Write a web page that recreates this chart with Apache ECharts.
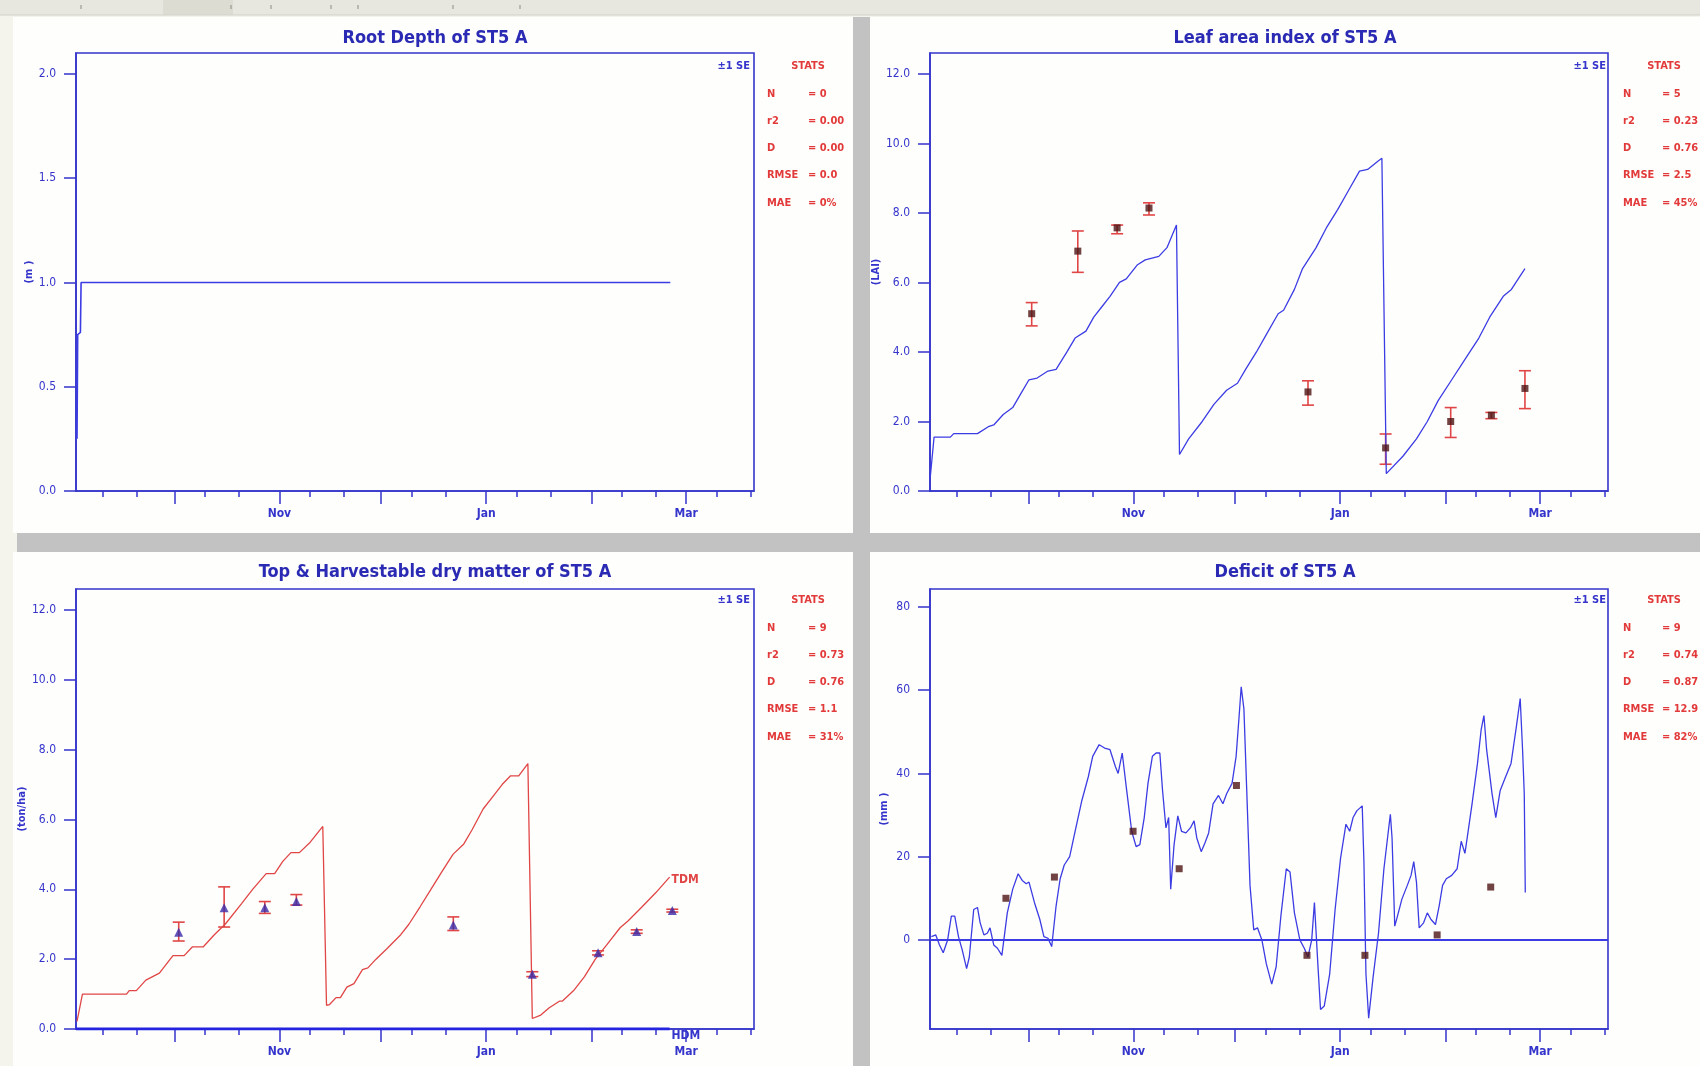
<!DOCTYPE html>
<html>
<head>
<meta charset="utf-8">
<script src="https://cdn.jsdelivr.net/npm/echarts@6/dist/echarts.min.js"></script>
<style>
html, body { margin: 0; padding: 0; background: #f4f3ec; }
#main { width: 1700px; height: 1066px; }
</style>
</head>
<body>
<div id="main"></div>
<script>
var FONT = '"Liberation Sans Narrow", "DejaVu Sans Condensed", sans-serif';
var AXIS = '#3535cc';
var LINE = '#3c3ce4';
var RED = '#e04646';
var STATRED = '#e23a3a';
var TITLE = '#2a2ab4';

// x axis: days since 1 Sep
var dayMin = 1, dayMax = 201;
var monthDays = [30, 61, 91, 122, 153, 181];
var labelDays = [61, 122, 181];
var monthLabels = ['Nov', 'Jan', 'Mar'];
var minorDays = [9, 19, 39, 49, 70, 80, 100, 110, 131, 141, 162, 172, 190, 200];

// root depth (m)
var rootDays = [1.3, 1.5, 2.3, 2.5, 176.3];
var rootVals = [0.25, 0.75, 0.76, 1.0, 1.0];
var rootTicks = [0, 0.5, 1.0, 1.5, 2.0];

// leaf area index
var laiDays = [1.06, 2.2, 7, 8, 15, 18.2, 19.8, 22.6, 25.4, 27.8, 30.2, 32.6, 35.8, 38.2, 41.4, 43.8, 47, 49.3, 51.7, 54.1, 56.9, 58.9, 62.1, 64.5, 68.5, 70.9, 73.7,
  74.6, 77.3, 81.3, 84.8, 88.5, 91.7, 94.1, 97.3, 100.2, 103.7, 105.3, 108.5, 110.9, 114.9, 118.1, 121.3, 124.2, 127.7, 130.1, 133.3, 134.3,
  135.6, 140.5, 144.5, 147.7, 150.9, 154.9, 158.9, 162.9, 166.1, 170.1, 172.5, 176.5];
var laiVals = [0.38, 1.55, 1.55, 1.65, 1.65, 1.85, 1.9, 2.2, 2.4, 2.8, 3.2, 3.25, 3.45, 3.5, 4.0, 4.4, 4.6, 5.0, 5.3, 5.6, 6.0, 6.1, 6.5, 6.65, 6.75, 7.0, 7.65,
  1.05, 1.5, 2.0, 2.5, 2.9, 3.1, 3.5, 4.0, 4.5, 5.1, 5.2, 5.8, 6.4, 7.0, 7.6, 8.1, 8.6, 9.2, 9.25, 9.5, 9.57,
  0.5, 1.0, 1.5, 2.0, 2.6, 3.2, 3.8, 4.4, 5.0, 5.6, 5.8, 6.4];
var laiObsDays = [31.0, 44.6, 56.2, 65.6, 112.5, 135.4, 154.6, 166.6, 176.5];
var laiObs = [5.1, 6.9, 7.57, 8.14, 2.85, 1.24, 2.0, 2.18, 2.95];
var laiLow = [4.75, 6.29, 7.4, 7.94, 2.47, 0.77, 1.54, 2.08, 2.37];
var laiHigh = [5.42, 7.48, 7.65, 8.29, 3.17, 1.64, 2.4, 2.26, 3.46];
var laiTicks = [0, 2, 4, 6, 8, 10, 12];

// top (TDM) and harvestable (HDM) dry matter, ton/ha
var tdmDays = [1.3, 2.9, 15.9, 16.7, 18.8, 21.6, 25.6, 29.6, 32.9, 35.3, 38.5, 41.8, 45.0, 49.9, 53.1, 57.1, 59.6, 62.0, 64.4, 66.9, 70.1, 73.8,
  74.9, 75.8, 77.7, 79.0, 80.9, 83.0, 85.5, 87.1, 89.5, 92.7, 96.8, 99.2, 102.5, 105.7, 108.9, 112.2, 115.4, 117.8, 121.1, 124.3, 126.7, 129.2, 131.6, 134.3,
  135.6, 138.1, 140.5, 143.7, 144.5, 147.8, 151.0, 154.2, 157.5, 161.5, 163.9, 168.0, 172.0, 176.1];
var tdmVals = [0.22, 1.0, 1.0, 1.1, 1.1, 1.4, 1.6, 2.1, 2.1, 2.35, 2.35, 2.7, 3.0, 3.6, 4.0, 4.45, 4.45, 4.8, 5.05, 5.05, 5.35, 5.8,
  0.68, 0.7, 0.9, 0.9, 1.2, 1.3, 1.7, 1.75, 2.0, 2.3, 2.7, 3.0, 3.5, 4.0, 4.5, 5.0, 5.3, 5.7, 6.3, 6.7, 7.0, 7.25, 7.25, 7.6,
  0.3, 0.4, 0.6, 0.8, 0.8, 1.1, 1.5, 2.0, 2.4, 2.9, 3.1, 3.5, 3.9, 4.35];
var hdmDays = [1, 176.1];
var hdmVals = [0, 0];
var tdmObsDays = [31.3, 44.7, 56.7, 66.0, 112.3, 135.6, 155.0, 166.4, 176.9];
var tdmObs = [2.77, 3.47, 3.47, 3.65, 2.98, 1.57, 2.18, 2.79, 3.39];
var tdmLow = [2.52, 2.92, 3.31, 3.55, 2.82, 1.5, 2.12, 2.74, 3.35];
var tdmHigh = [3.06, 4.07, 3.65, 3.85, 3.21, 1.64, 2.24, 2.84, 3.43];
var tdmTicks = [0, 2, 4, 6, 8, 10, 12];

// soil water deficit (mm)
var defDays = [1.4, 2.7, 3.8, 4.9, 6.2, 7.3, 8.3, 9.4, 10.5, 11.8, 12.6, 13.9, 15.0, 15.8, 16.9, 17.9, 18.7, 19.8, 20.9, 22.2, 23.8, 25.4, 27.0, 28.2, 29.4, 30.2,
  31.8, 33.4, 34.6, 35.8, 36.9, 38.2, 39.4, 40.6, 42.2, 43.8, 45.8, 47.7, 49.0, 50.9, 52.5, 54.1, 55.7, 56.5, 57.7, 58.9, 60.5, 61.8, 62.9, 64.2, 65.3,
  66.6, 67.7, 68.8, 69.6, 70.6, 71.4, 72.0, 73.0, 74.1, 75.2, 76.5, 77.8, 78.9, 79.7, 81.0, 82.1, 83.2, 84.5, 86.1, 87.4, 88.5, 90.1, 91.3, 92.2, 92.8,
  93.6, 94.4, 95.4, 96.5, 97.6, 98.9, 100.2, 101.8, 103.1, 104.5, 106.1, 107.2, 108.5, 110.1, 111.4, 112.5, 113.6, 114.4, 115.4, 116.2, 117.3, 118.9,
  120.5, 122.1, 123.7, 124.8, 125.8, 126.9, 128.5, 129.0, 129.6, 130.4, 131.7, 133.3, 134.9, 136.2, 136.8, 137.3, 138.1, 138.9, 140.2, 141.8, 142.9,
  143.7, 144.5, 145.3, 146.6, 147.7, 148.8, 150.1, 151.2, 152.2, 153.3, 154.9, 156.5, 157.7, 158.8, 159.6, 160.9, 162.5, 163.6, 164.4, 165.2, 166.8,
  167.9, 169.2, 170.8, 172.4, 174.0, 175.1, 175.8, 176.3, 176.6];
var defVals = [0.8, 1.2, -1.2, -3.1, 0, 5.7, 5.7, 0.8, -2.4, -6.9, -4.1, 7.3, 7.8, 4.1, 1.2, 1.6, 2.9, -1.2, -2.0, -3.7, 6.5, 12.2, 15.9, 14.3, 13.5, 13.9,
  9.0, 4.9, 0.8, 0.4, -1.6, 8.2, 14.7, 18.0, 20.0, 26.1, 33.5, 39.2, 44.1, 46.9, 46.1, 45.7, 41.6, 40.0, 44.9, 36.7, 26.1, 22.4, 22.9, 29.4, 37.6,
  44.1, 44.9, 44.9, 35.9, 26.9, 29.4, 12.2, 22.9, 29.8, 26.1, 25.7, 26.9, 28.6, 24.5, 21.2, 23.3, 25.7, 32.7, 34.7, 32.7, 35.1, 37.6, 44.1, 53.9, 60.8,
  55.5, 36.7, 13.1, 2.4, 2.9, 0, -5.7, -10.6, -6.5, 5.7, 17.1, 16.3, 6.5, 0, -2.0, -4.1, 0, 9.0, -5.7, -16.7, -15.9, -8.2,
  7.3, 19.6, 27.8, 26.1, 29.4, 31.0, 32.2, 18.8, -8.2, -18.8, -9.0, 1.6, 17.1, 26.1, 30.2, 24.5, 3.3, 5.7, 9.8, 13.1, 15.5,
  18.8, 13.9, 2.9, 4.1, 6.5, 4.9, 3.7, 8.2, 13.1, 14.7, 15.5, 17.1, 23.7, 20.8, 25.3, 32.7, 42.4, 50.6, 53.9, 45.7, 35.1,
  29.4, 35.9, 39.2, 42.4, 51.4, 58.0, 45.7, 35.1, 11.4];
var defObsDays = [23.4, 37.7, 60.9, 74.5, 91.4, 112.2, 129.3, 150.6, 166.4];
var defObs = [10.0, 15.1, 26.1, 17.1, 37.1, -3.7, -3.7, 1.2, 12.7];
var defTicks = [0, 20, 40, 60, 80];

// goodness-of-fit boxes
var statNames = ['N', 'r2', 'D', 'RMSE', 'MAE'];
var rootStats = ['0', '0.00', '0.00', '0.0', '0%'];
var laiStats = ['5', '0.23', '0.76', '2.5', '45%'];
var tdmStats = ['9', '0.73', '0.76', '1.1', '31%'];
var defStats = ['9', '0.74', '0.87', '12.9', '82%'];

var titles = ['Root Depth of ST5 A', 'Leaf area index of ST5 A', 'Top & Harvestable dry matter of ST5 A', 'Deficit of ST5 A'];
var yNames = ['(m )', '(LAI)', '(ton/ha)', '(mm )'];

function zip(a, b) {
  var out = [];
  for (var i = 0; i < a.length; i++) out.push([a[i], b[i]]);
  return out;
}
function zip3(a, b, c) {
  var out = [];
  for (var i = 0; i < a.length; i++) out.push([a[i], b[i], c[i]]);
  return out;
}

var gridBoxes = [
  {left: 76, top: 53, width: 678, height: 438},
  {left: 930, top: 53, width: 678, height: 438},
  {left: 76, top: 589, width: 678, height: 440},
  {left: 930, top: 589, width: 678, height: 440}
];

function makeX(g) {
  return [{
    type: 'value', gridIndex: g, min: dayMin, max: dayMax, position: 'bottom',
    axisLine: {show: true, onZero: false, lineStyle: {color: AXIS, width: 1.6}},
    axisTick: {show: true, length: 13, customValues: monthDays, lineStyle: {color: AXIS, width: 1.5}},
    axisLabel: {
      customValues: labelDays, margin: 17, color: AXIS, fontFamily: FONT, fontWeight: 'bold', fontSize: 12,
      formatter: function (v) { return monthLabels[labelDays.indexOf(v)]; }
    },
    splitLine: {show: false}
  }, {
    type: 'value', gridIndex: g, min: dayMin, max: dayMax, position: 'bottom',
    axisLine: {show: false, onZero: false},
    axisTick: {show: true, length: 6, customValues: minorDays, lineStyle: {color: AXIS, width: 1.5}},
    axisLabel: {show: false},
    splitLine: {show: false}
  }];
}

function makeY(g, min, max, ticks, digits) {
  return {
    type: 'value', gridIndex: g, min: min, max: max,
    name: yNames[g], nameLocation: 'middle', nameGap: 40, nameRotate: 90,
    nameTextStyle: {color: AXIS, fontFamily: FONT, fontSize: 11, fontWeight: 'bold'},
    axisLine: {show: true, onZero: false, lineStyle: {color: AXIS, width: 1.6}},
    axisTick: {show: true, length: 12, customValues: ticks, lineStyle: {color: AXIS, width: 1.5}},
    axisLabel: {
      customValues: ticks, margin: 20, color: AXIS, fontFamily: FONT, fontSize: 12,
      formatter: function (v) { return v.toFixed(digits); }
    },
    splitLine: {show: false}
  };
}

function errBars(params, api) {
  var x = api.value(0);
  var top = api.coord([x, api.value(2)]);
  var bot = api.coord([x, api.value(1)]);
  var w = 6;
  var st = {stroke: RED, lineWidth: 1.6};
  return {
    type: 'group',
    children: [
      {type: 'line', shape: {x1: top[0], y1: top[1], x2: bot[0], y2: bot[1]}, style: st},
      {type: 'line', shape: {x1: top[0] - w, y1: top[1], x2: top[0] + w, y2: top[1]}, style: st},
      {type: 'line', shape: {x1: bot[0] - w, y1: bot[1], x2: bot[0] + w, y2: bot[1]}, style: st}
    ]
  };
}

function lineSeries(xi, yi, data, color, width) {
  return {
    type: 'line', xAxisIndex: xi, yAxisIndex: yi, data: data,
    symbol: 'none', showSymbol: false, silent: true,
    lineStyle: {color: color, width: width}
  };
}

// ---- decoration: panels, header strip, texts
var graphics = [];
graphics.push({type: 'rect', z: -20, shape: {x: 0, y: 0, width: 1700, height: 15}, style: {fill: '#e8e7df'}});
graphics.push({type: 'rect', z: -20, shape: {x: 163, y: 0, width: 70, height: 15}, style: {fill: '#dddcd3'}});
graphics.push({type: 'line', z: -20, shape: {x1: 0, y1: 15, x2: 1700, y2: 15}, style: {stroke: '#d2d1c8', lineWidth: 1}});
[81, 231, 271, 331, 358, 453, 520].forEach(function (x) {
  graphics.push({type: 'line', z: -20, shape: {x1: x, y1: 5, x2: x, y2: 9}, style: {stroke: '#8a8a84', lineWidth: 1}});
});
graphics.push({type: 'rect', z: -19, shape: {x: 17, y: 17, width: 1683, height: 1049}, style: {fill: '#c2c2c2'}});
var panels = [[13, 17, 840, 516], [870, 17, 830, 516], [13, 552, 840, 514], [870, 552, 830, 514]];
panels.forEach(function (p) {
  graphics.push({type: 'rect', z: -18, shape: {x: p[0], y: p[1], width: p[2], height: p[3]}, style: {fill: '#fefefc'}});
});

var titlePos = [[435, 38], [1285, 38], [435, 572], [1285, 572]];
titles.forEach(function (t, i) {
  graphics.push({
    type: 'text', z: 50, x: titlePos[i][0], y: titlePos[i][1],
    style: {text: t, fill: TITLE, font: 'bold 18px ' + FONT, align: 'center', verticalAlign: 'middle'}
  });
});

var allStats = [rootStats, laiStats, tdmStats, defStats];
var statPos = [[767, 808, 66], [1623, 1662, 66], [767, 808, 600], [1623, 1662, 600]];
allStats.forEach(function (vals, i) {
  var p = statPos[i];
  graphics.push({
    type: 'text', z: 50, x: p[0] + 41, y: p[2],
    style: {text: 'STATS', fill: STATRED, font: 'bold 11px ' + FONT, align: 'center', verticalAlign: 'middle'}
  });
  graphics.push({
    type: 'text', z: 50, x: p[0] - 17, y: p[2],
    style: {text: '\u00b11 SE', fill: AXIS, font: 'bold 11px ' + FONT, align: 'right', verticalAlign: 'middle'}
  });
  for (var k = 0; k < statNames.length; k++) {
    var yy = p[2] + 28 + k * 27.2;
    graphics.push({
      type: 'text', z: 50, x: p[0], y: yy,
      style: {text: statNames[k], fill: STATRED, font: 'bold 11px ' + FONT, align: 'left', verticalAlign: 'middle'}
    });
    graphics.push({
      type: 'text', z: 50, x: p[1], y: yy,
      style: {text: '= ' + vals[k], fill: STATRED, font: 'bold 11px ' + FONT, align: 'left', verticalAlign: 'middle'}
    });
  }
});

var grids = gridBoxes.map(function (b) {
  return {left: b.left, top: b.top, width: b.width, height: b.height, show: true,
    borderColor: AXIS, borderWidth: 1.6, backgroundColor: 'transparent'};
});

var option = {
  backgroundColor: '#f4f3ec',
  animation: false,
  graphic: {elements: graphics},
  grid: grids,
  xAxis: [].concat(makeX(0), makeX(1), makeX(2), makeX(3)),
  yAxis: [
    makeY(0, 0, 2.1, rootTicks, 1),
    makeY(1, 0, 12.6, laiTicks, 1),
    makeY(2, 0, 12.6, tdmTicks, 1),
    makeY(3, -21.4, 84.3, defTicks, 0)
  ],
  series: [
    lineSeries(0, 0, zip(rootDays, rootVals), LINE, 1.6),

    lineSeries(2, 1, zip(laiDays, laiVals), LINE, 1.3),
    {type: 'custom', xAxisIndex: 2, yAxisIndex: 1, renderItem: errBars, data: zip3(laiObsDays, laiLow, laiHigh), silent: true, z: 3},
    {type: 'scatter', xAxisIndex: 2, yAxisIndex: 1, data: zip(laiObsDays, laiObs), symbol: 'rect', symbolSize: 7,
      itemStyle: {color: '#4e1414'}, silent: true, z: 4},

    Object.assign(lineSeries(4, 2, zip(tdmDays, tdmVals), RED, 1.3), {
      endLabel: {show: true, formatter: 'TDM', color: RED, fontFamily: FONT, fontWeight: 'bold', fontSize: 12, distance: 2, offset: [0, 3]}
    }),
    Object.assign(lineSeries(4, 2, zip(hdmDays, hdmVals), '#2424e0', 3.2), {
      endLabel: {show: true, formatter: 'HDM', color: AXIS, fontFamily: FONT, fontWeight: 'bold', fontSize: 12, distance: 2, offset: [0, 7]}
    }),
    {type: 'custom', xAxisIndex: 4, yAxisIndex: 2, renderItem: errBars, data: zip3(tdmObsDays, tdmLow, tdmHigh), silent: true, z: 3},
    {type: 'scatter', xAxisIndex: 4, yAxisIndex: 2, data: zip(tdmObsDays, tdmObs), symbol: 'triangle', symbolSize: 9,
      itemStyle: {color: '#3a2aa8'}, silent: true, z: 4},

    Object.assign(lineSeries(6, 3, zip(defDays, defVals), LINE, 1.3), {
      markLine: {silent: true, symbol: 'none', label: {show: false},
        lineStyle: {color: LINE, width: 2, type: 'solid'}, data: [{yAxis: 0}]}
    }),
    {type: 'scatter', xAxisIndex: 6, yAxisIndex: 3, data: zip(defObsDays, defObs), symbol: 'rect', symbolSize: 7,
      itemStyle: {color: '#4e1414'}, silent: true, z: 4}
  ]
};

var chart = echarts.init(document.getElementById('main'), null, {renderer: 'canvas', width: 1700, height: 1066});
chart.setOption(option);
</script>
</body>
</html>
